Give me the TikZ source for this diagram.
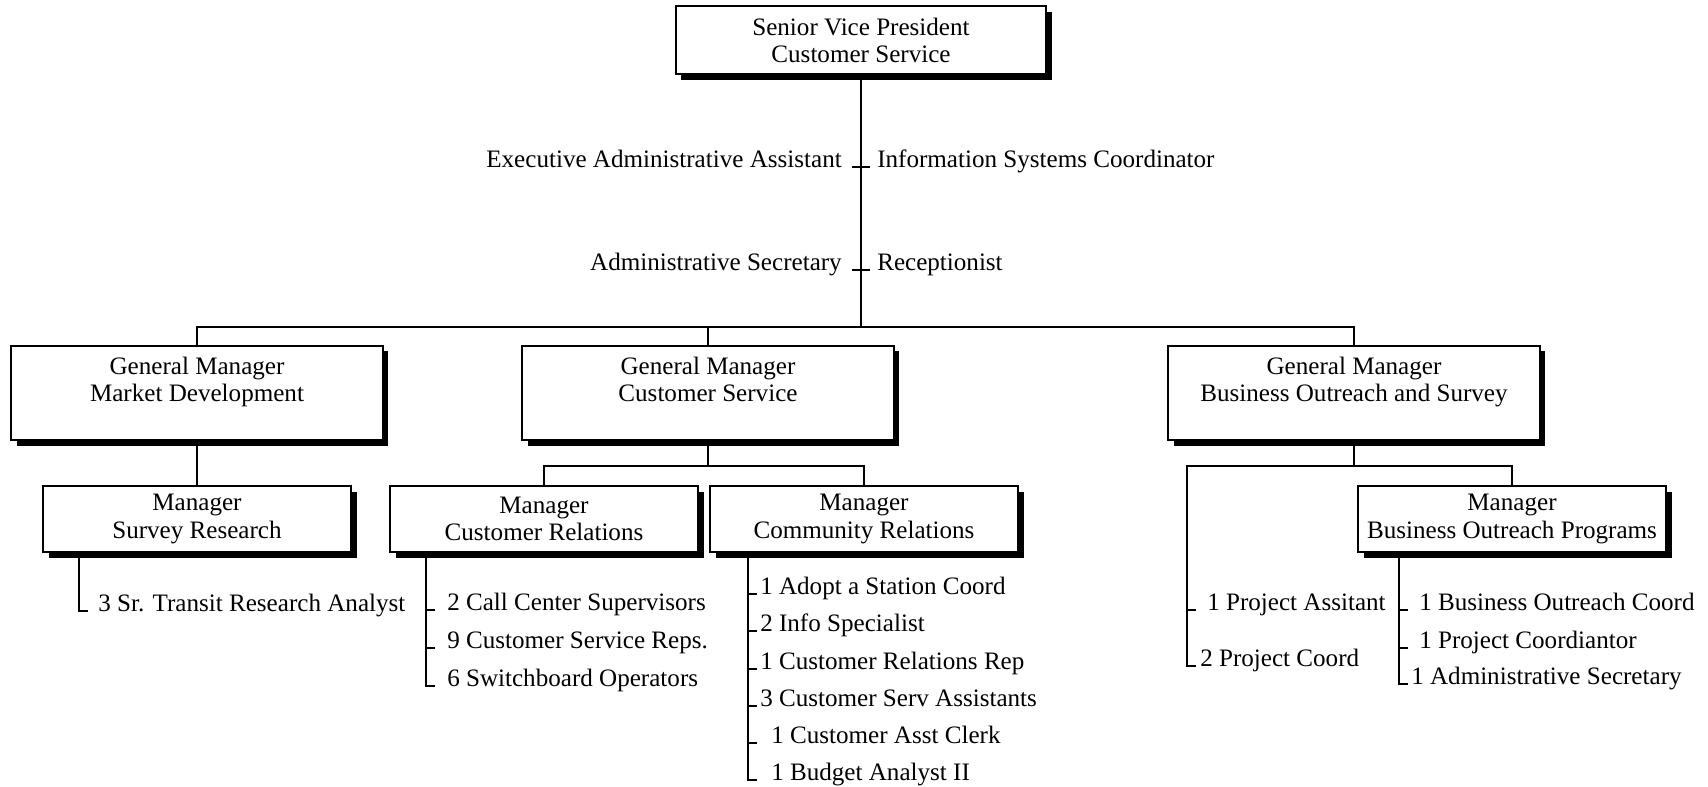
\documentclass[tikz,border=0pt]{standalone}
\usepackage{fontspec}
\setmainfont{Liberation Serif}
\usetikzlibrary{shadows}

\begin{document}
\begin{tikzpicture}[
      x=0.014cm, y=-0.014cm,
      line width=1pt, line cap=rect,
      every node/.style={font=\fontsize{10}{10.8}\selectfont},
      orgbox/.style={rectangle, draw, line width=0.8pt, fill=white, align=center,
        inner sep=0pt, minimum width=4.32cm, minimum height=0.92cm,
        drop shadow={shadow xshift=0.08cm, shadow yshift=-0.08cm, opacity=1, fill=black}},
      gmbox/.style={orgbox, minimum width=5.2cm, minimum height=1.33cm},
      staff/.style={inner sep=0pt},
      item/.style={anchor=base west, inner sep=0pt}
    ]

    \useasboundingbox (0,0) rectangle (1708,786);

    \node[orgbox, minimum width=5.19cm, minimum height=0.95cm] (svp) at (861,40) {Senior Vice President\\Customer Service};

    \node[staff, anchor=base east] (eaa) at (843,167) {Executive Administrative Assistant};
    \node[staff, anchor=base west] (isc) at (876,167) {Information Systems Coordinator};
    \node[staff, anchor=base east] (ase) at (843,270) {Administrative Secretary};
    \node[staff, anchor=base west] (rec) at (876,270) {Receptionist};

    \node[gmbox] (gmmd) at (197,393) {General Manager\\Market Development\\\mbox{}};
    \node[gmbox] (gmcs) at (708,393) {General Manager\\Customer Service\\\mbox{}};
    \node[gmbox] (gmbos) at (1354,393) {General Manager\\Business Outreach and Survey\\\mbox{}};

    \node[orgbox] (msr) at (197,519) {Manager\\Survey Research};
    \node[orgbox] (mcr) at (544,519) {Manager\\Customer Relations};
    \node[orgbox] (mcom) at (864,519) {Manager\\Community Relations};
    \node[orgbox] (mbop) at (1512,519) {Manager\\Business Outreach Programs};

    % trunk and buses
    \coordinate (bus) at (861,327);
    \coordinate (t1) at (svp.south |- eaa.base);
    \coordinate (t2) at (svp.south |- ase.base);
    \draw (svp.south) -- (bus);
    \draw ([xshift=-0.11cm]t1) -- ([xshift=0.11cm]t1);
    \draw ([xshift=-0.11cm]t2) -- ([xshift=0.11cm]t2);
    \draw (gmmd.north) |- (bus) -| (gmbos.north);
    \draw (gmcs.north) -- (gmcs.north |- bus);

    \draw (gmmd.south) -- (msr.north);
    \coordinate (csb) at (708,466);
    \draw (gmcs.south) -- (csb);
    \draw (mcr.north) |- (csb) -| (mcom.north);

    \coordinate (bosb) at (1354,466);
    \coordinate (bosl) at (1187,466);
    \node[item] (bo1) at (1206,610) {1 Project Assitant};
    \node[item] (bo2) at (1199,666) {2 Project Coord};
    \draw (gmbos.south) -- (bosb);
    \draw (mbop.north) |- (bosb) -- (bosl) -- (bosl |- bo2.base);
    \foreach \n in {bo1,bo2} \draw (bosl |- \n.base) -- ++(8,0);

    % staff lists
    \coordinate (srv) at (79,0);
    \node[item] (sr1) at (97,611) {3 Sr. Transit Research Analyst};
    \draw (msr.south -| srv) -- (srv |- sr1.base) -- ++(8,0);

    \coordinate (crv) at (426,0);
    \node[item] (cr1) at (446,610) {2 Call Center Supervisors};
    \node[item] (cr2) at (446,648) {9 Customer Service Reps.};
    \node[item] (cr3) at (446,686) {6 Switchboard Operators};
    \draw (mcr.south -| crv) -- (crv |- cr3.base);
    \foreach \n in {cr1,cr2,cr3} \draw (crv |- \n.base) -- ++(8,0);

    \coordinate (cmv) at (748,0);
    \node[item] (cm1) at (759,594) {1 Adopt a Station Coord};
    \node[item] (cm2) at (759,631) {2 Info Specialist};
    \node[item] (cm3) at (759,669) {1 Customer Relations Rep};
    \node[item] (cm4) at (759,706) {3 Customer Serv Assistants};
    \node[item] (cm5) at (770,743) {1 Customer Asst Clerk};
    \node[item] (cm6) at (770,780) {1 Budget Analyst II};
    \draw (mcom.south -| cmv) -- (cmv |- cm6.base);
    \foreach \n in {cm1,cm2,cm3,cm4,cm5,cm6} \draw (cmv |- \n.base) -- ++(8,0);

    \coordinate (bpv) at (1399,0);
    \node[item] (bp1) at (1418,610) {1 Business Outreach Coord};
    \node[item] (bp2) at (1418,648) {1 Project Coordiantor};
    \node[item] (bp3) at (1410,684) {1 Administrative Secretary};
    \draw (mbop.south -| bpv) -- (bpv |- bp3.base);
    \foreach \n in {bp1,bp2,bp3} \draw (bpv |- \n.base) -- ++(8,0);

    \end{tikzpicture}
\end{document}
